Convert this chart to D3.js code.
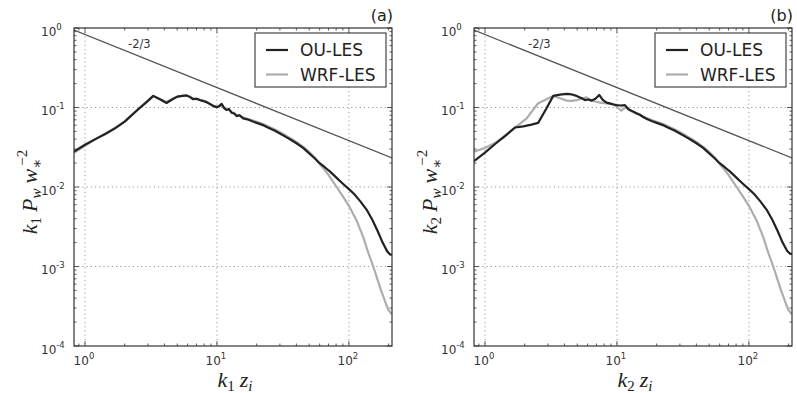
<!DOCTYPE html>
<html>
<head>
<meta charset="utf-8">
<script src="https://cdn.jsdelivr.net/npm/d3@7"></script>
<style>
  body { margin: 0; background: #fff; }
  svg { display: block; }
</style>
</head>
<body>
<svg id="fig" width="797" height="393"></svg>
<script>
// Axis ranges and ticks (log-log)
const kRange = [0.826, 212];
const pRange = [1e-4, 1];
const xDecades = [1, 10, 100];
const yDecades = [1e-4, 1e-3, 1e-2, 1e-1, 1];
const seriesNames = ["OU-LES", "WRF-LES"];
const panelLetters = ["(a)", "(b)"];
const slopeText = "-2/3";
// -2/3 reference line, end points
const slopeLine = [[0.826, 0.94], [212, 0.0232]];

// Panel (a): spectra vs k1 zi
const ouA = [
  [0.826, 0.028], [1.0, 0.034], [1.2, 0.040], [1.45, 0.047], [1.69, 0.0547], [2.0, 0.0665],
  [2.5, 0.093], [3.0, 0.121], [3.29, 0.140], [3.75, 0.125], [4.15, 0.114], [4.6, 0.127],
  [5.0, 0.137], [5.5, 0.140], [5.9, 0.142], [6.3, 0.134], [6.6, 0.127], [7.0, 0.129],
  [7.5, 0.123], [7.9, 0.121], [8.4, 0.116], [8.9, 0.110], [9.4, 0.104], [9.95, 0.101],
  [10.4, 0.104], [10.85, 0.111], [11.3, 0.099], [11.8, 0.093], [12.3, 0.096], [12.9, 0.086],
  [13.5, 0.084], [14.1, 0.078], [14.8, 0.080], [15.8, 0.073], [17, 0.071], [18.5, 0.067],
  [20, 0.064], [22.4, 0.060], [25, 0.055], [27.5, 0.051], [30, 0.047], [33, 0.043],
  [36, 0.0395], [40, 0.0355], [45, 0.031], [50, 0.0265], [55, 0.023], [60, 0.0199],
  [66, 0.0176], [72, 0.0156], [80, 0.0132], [90, 0.0110], [100, 0.0094], [110, 0.0081],
  [122, 0.0066], [136, 0.0052], [150, 0.0039], [165, 0.0028], [180, 0.0020], [195, 0.00155],
  [205, 0.00142], [212, 0.0014]
];
const wrfA = [
  [0.826, 0.027], [1.0, 0.033], [1.2, 0.040], [1.45, 0.048], [1.69, 0.0555], [2.0, 0.067],
  [2.5, 0.094], [3.0, 0.122], [3.29, 0.139], [3.75, 0.127], [4.15, 0.117], [4.6, 0.128],
  [5.0, 0.136], [5.5, 0.141], [5.9, 0.140], [6.3, 0.136], [6.6, 0.130], [7.0, 0.127],
  [7.5, 0.125], [7.9, 0.120], [8.4, 0.118], [8.9, 0.111], [9.4, 0.106], [9.95, 0.102],
  [10.4, 0.103], [10.85, 0.108], [11.3, 0.101], [11.8, 0.095], [12.3, 0.094], [12.9, 0.088],
  [13.5, 0.085], [14.1, 0.080], [14.8, 0.079], [15.8, 0.075], [17, 0.072], [18.5, 0.069],
  [20, 0.066], [22.4, 0.062], [25, 0.057], [27.5, 0.053], [30, 0.049], [33, 0.045],
  [36, 0.041], [40, 0.037], [45, 0.032], [50, 0.0275], [55, 0.0235], [60, 0.0195],
  [64, 0.0172], [70, 0.0142], [80.7, 0.0100], [90, 0.0076], [100, 0.0058], [115, 0.0037],
  [128, 0.00237], [140, 0.0015], [152.8, 0.0010], [165, 0.00068], [175, 0.0005],
  [182, 0.00042], [192, 0.00033], [200, 0.00028], [212, 0.00025]
];

// Panel (b): spectra vs k2 zi
const ouB = [
  [0.826, 0.0212], [1.0, 0.027], [1.2, 0.035], [1.45, 0.045], [1.69, 0.056], [1.95, 0.058],
  [2.25, 0.061], [2.53, 0.064], [2.9, 0.095], [3.29, 0.140], [3.7, 0.145], [4.16, 0.148],
  [4.55, 0.146], [4.95, 0.140], [5.35, 0.132], [5.72, 0.124], [6.1, 0.126], [6.43, 0.122],
  [6.9, 0.130], [7.34, 0.144], [7.8, 0.125], [8.36, 0.115], [8.9, 0.112], [9.4, 0.109],
  [9.95, 0.107], [10.7, 0.106], [11.5, 0.107], [12.2, 0.095], [13.1, 0.090], [14.1, 0.0845],
  [14.9, 0.081], [15.8, 0.076], [17, 0.071], [18.5, 0.067], [20, 0.064], [22.4, 0.060],
  [25, 0.055], [27.5, 0.051], [30, 0.047], [33, 0.043], [36, 0.0395], [40, 0.0355],
  [45, 0.031], [50, 0.0265], [55, 0.023], [60, 0.0199], [66, 0.0176], [72, 0.0156],
  [80, 0.0132], [90, 0.0110], [100, 0.0094], [110, 0.0081], [122, 0.0066], [136, 0.0052],
  [150, 0.0039], [165, 0.0028], [180, 0.0020], [195, 0.00157], [205, 0.00145], [212, 0.00143]
];
const wrfB = [
  [0.826, 0.0278], [1.0, 0.031], [1.2, 0.036], [1.38, 0.043], [1.69, 0.056], [2.07, 0.073],
  [2.3, 0.092], [2.53, 0.113], [2.9, 0.126], [3.29, 0.140], [3.7, 0.131], [4.16, 0.122],
  [4.55, 0.121], [4.95, 0.124], [5.4, 0.129], [5.88, 0.134], [6.43, 0.122], [7.0, 0.118],
  [7.43, 0.115], [8.3, 0.113], [9.38, 0.111], [10.1, 0.100], [10.8, 0.091], [11.3, 0.097],
  [11.8, 0.102], [12.5, 0.093], [13.3, 0.087], [14.1, 0.083], [15, 0.081], [15.8, 0.077],
  [17, 0.073], [18.5, 0.069], [20, 0.066], [22.4, 0.062], [25, 0.057], [27.5, 0.053],
  [30, 0.049], [33, 0.045], [36, 0.041], [40, 0.037], [45, 0.032], [50, 0.0275],
  [55, 0.0235], [60, 0.0195], [64, 0.0172], [70, 0.0142], [80.7, 0.0100], [90, 0.0076],
  [100, 0.0058], [115, 0.0037], [128, 0.00237], [140, 0.0015], [152.8, 0.0010],
  [165, 0.00068], [175, 0.0005], [182, 0.00042], [192, 0.00033], [200, 0.00028], [212, 0.00025]
];

const panels = [
  { left: 74, ou: ouA, wrf: wrfA, idx: "1", letter: panelLetters[0] },
  { left: 474, ou: ouB, wrf: wrfB, idx: "2", letter: panelLetters[1] }
];

const plotW = 318, plotTop = 28, plotBottom = 346;
const ink = "#333";
const svg = d3.select("#fig");

panels.forEach((p, pi) => {
  const x = d3.scaleLog().domain(kRange).range([p.left, p.left + plotW]);
  const y = d3.scaleLog().domain(pRange).range([plotBottom, plotTop]);
  const g = svg.append("g");
  const clipId = "clip" + pi;
  svg.append("clipPath").attr("id", clipId)
    .append("rect").attr("x", p.left).attr("y", plotTop).attr("width", plotW).attr("height", plotBottom - plotTop);

  // dotted grid at decades
  g.selectAll(".gx").data(xDecades).join("line")
    .attr("x1", d => x(d)).attr("x2", d => x(d)).attr("y1", plotTop).attr("y2", plotBottom)
    .attr("stroke", "#999").attr("stroke-width", 1).attr("stroke-dasharray", "1.2,3");
  g.selectAll(".gy").data(yDecades.filter(d => d > pRange[0] && d < pRange[1])).join("line")
    .attr("y1", d => y(d)).attr("y2", d => y(d)).attr("x1", p.left).attr("x2", p.left + plotW)
    .attr("stroke", "#999").attr("stroke-width", 1).attr("stroke-dasharray", "1.2,3");

  // minor / major ticks, inward on all four sides
  const xMinor = [];
  [0.1, 1, 10, 100].forEach(dec => { for (let m = 2; m <= 9; m++) { const v = dec * m; if (v > kRange[0] && v < kRange[1]) xMinor.push(v); } });
  const yMinor = [];
  [1e-4, 1e-3, 1e-2, 1e-1].forEach(dec => { for (let m = 2; m <= 9; m++) yMinor.push(dec * m); });
  const tickG = g.append("g").attr("stroke", ink).attr("stroke-width", 0.8);
  const xt = xMinor.map(v => ({ v, len: 2.5 })).concat(xDecades.map(v => ({ v, len: 5 })));
  xt.forEach(t => {
    tickG.append("line").attr("x1", x(t.v)).attr("x2", x(t.v)).attr("y1", plotBottom).attr("y2", plotBottom - t.len);
    tickG.append("line").attr("x1", x(t.v)).attr("x2", x(t.v)).attr("y1", plotTop).attr("y2", plotTop + t.len);
  });
  const yt = yMinor.map(v => ({ v, len: 2.5 })).concat(yDecades.map(v => ({ v, len: 5 })));
  yt.forEach(t => {
    tickG.append("line").attr("y1", y(t.v)).attr("y2", y(t.v)).attr("x1", p.left).attr("x2", p.left + t.len);
    tickG.append("line").attr("y1", y(t.v)).attr("y2", y(t.v)).attr("x1", p.left + plotW).attr("x2", p.left + plotW - t.len);
  });

  // data lines
  const line = d3.line().x(d => x(d[0])).y(d => y(d[1]));
  const lg = g.append("g").attr("clip-path", `url(#${clipId})`).attr("fill", "none");
  lg.append("path").datum(slopeLine).attr("d", line).attr("stroke", "#555").attr("stroke-width", 1.3);
  lg.append("path").datum(p.wrf).attr("d", line).attr("stroke", "#adadad").attr("stroke-width", 2.2).attr("stroke-linejoin", "round");
  lg.append("path").datum(p.ou).attr("d", line).attr("stroke", "#222").attr("stroke-width", 2.2).attr("stroke-linejoin", "round");

  // frame
  g.append("rect").attr("x", p.left).attr("y", plotTop).attr("width", plotW).attr("height", plotBottom - plotTop)
    .attr("fill", "none").attr("stroke", ink).attr("stroke-width", 1.2);

  // tick labels: powers of ten
  const lblFont = "'DejaVu Sans', sans-serif";
  xDecades.forEach(v => {
    const e = Math.round(Math.log10(v));
    const t = g.append("text").attr("x", x(v) - 1).attr("y", 365).attr("text-anchor", "middle")
      .attr("font-family", lblFont).attr("font-size", 12).attr("fill", ink);
    t.append("tspan").text("10");
    t.append("tspan").attr("font-size", 8.5).attr("dy", -6).text(String(e));
  });
  yDecades.forEach(v => {
    const e = Math.round(Math.log10(v));
    const t = g.append("text").attr("x", p.left - 33).attr("y", y(v) + 7.5).attr("text-anchor", "start")
      .attr("font-family", lblFont).attr("font-size", 12).attr("fill", ink);
    t.append("tspan").text("10");
    t.append("tspan").attr("font-size", 8.5).attr("dy", -6).text(e === 0 ? "0" : "-" + Math.abs(e));
  });

  // slope annotation and panel letter
  g.append("text").attr("x", x(2.12)).attr("y", 48).attr("font-family", lblFont).attr("font-size", 11.5)
    .attr("fill", ink).text(slopeText);
  g.append("text").attr("x", p.left + plotW + 1).attr("y", 21).attr("text-anchor", "end")
    .attr("font-family", lblFont).attr("font-size", 16).attr("fill", "#222").text(p.letter);

  // legend
  const lgd = g.append("g");
  lgd.append("rect").attr("x", p.left + 181).attr("y", 33).attr("width", 131).attr("height", 54)
    .attr("fill", "#fff").attr("stroke", ink).attr("stroke-width", 1.1);
  [[seriesNames[0], "#222", 50], [seriesNames[1], "#adadad", 74.5]].forEach(([name, col, ly]) => {
    lgd.append("line").attr("x1", p.left + 192).attr("x2", p.left + 214).attr("y1", ly).attr("y2", ly)
      .attr("stroke", col).attr("stroke-width", 2.2);
    lgd.append("text").attr("x", p.left + 226).attr("y", ly + 6.3).attr("font-family", lblFont)
      .attr("font-size", 17).attr("fill", "#222").text(name);
  });

  // axis titles (math italic)
  const mathFont = "'Liberation Serif', 'DejaVu Serif', serif";
  const xl = g.append("text").attr("x", p.left + plotW / 2 + 2).attr("y", 386.5).attr("text-anchor", "middle")
    .attr("font-family", mathFont).attr("font-size", 22).attr("fill", "#222");
  xl.append("tspan").attr("font-style", "italic").text("k");
  xl.append("tspan").attr("font-size", 15).attr("dy", 4).text(p.idx);
  xl.append("tspan").attr("font-style", "italic").attr("dx", 5).attr("dy", -4).text("z");
  xl.append("tspan").attr("font-style", "italic").attr("font-size", 15).attr("dy", 4).text("i");

  const yl = g.append("text").attr("transform", `translate(${p.left - 37},192) rotate(-90)`)
    .attr("text-anchor", "middle").attr("font-family", mathFont).attr("font-size", 22).attr("fill", "#222");
  yl.append("tspan").attr("font-style", "italic").text("k");
  yl.append("tspan").attr("font-size", 15).attr("dy", 4).text(p.idx);
  yl.append("tspan").attr("font-style", "italic").attr("dx", 5).attr("dy", -4).text("P");
  yl.append("tspan").attr("font-style", "italic").attr("font-size", 15).attr("dy", 4).text("w");
  yl.append("tspan").attr("font-style", "italic").attr("dx", 5).attr("dy", -4).text("w");
  yl.append("tspan").attr("font-size", 15).attr("dy", 5).text("∗");
  yl.append("tspan").attr("font-size", 15).attr("dx", -7).attr("dy", -15).text("−2");
});
</script>
</body>
</html>
